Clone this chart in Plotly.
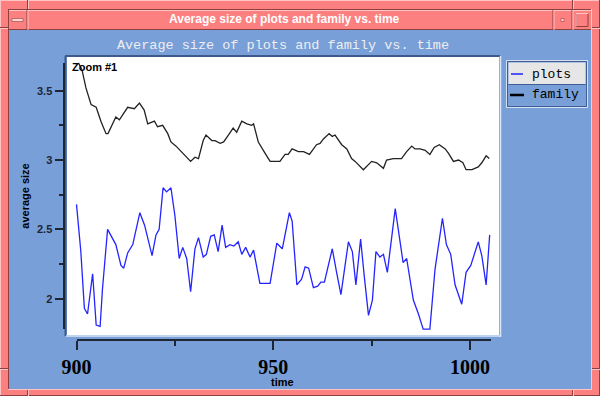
import plotly.graph_objects as go

W, H = 600, 396

# ---------------- data ----------------
family_time = [900.5, 901.4, 902.4, 903.7, 905, 906.2, 907.5, 908, 910, 910.9, 913, 914.7, 916, 917.2,
               918.1, 919.8, 920.6, 921.9, 923.2, 924, 925.3, 926.3, 929, 930.1, 931, 932.2, 932.9,
               934.4, 935.2, 936.5, 937.4, 938.6, 939.8, 940.7, 942, 943.3, 944.5, 945, 946.2, 947.9,
               949.2, 951.7, 953, 953.8, 954.8, 956.4, 957.7, 959.2, 961, 961.9, 962.7, 964.2, 965,
               965.7, 967.4, 968.7, 969.9, 970.8, 972.9, 975, 976.3, 978, 978.8, 980.5, 982.6, 983.9,
               985.2, 986, 987.3, 988.6, 989.8, 990.9, 992.2, 993.7, 994.5, 995.8, 997.1, 998.2, 999,
               1000.5, 1002.1, 1003, 1004.1, 1004.9]
family_size = [3.70, 3.65, 3.52, 3.40, 3.38, 3.28, 3.19, 3.19, 3.31, 3.29, 3.38, 3.37, 3.41, 3.36,
               3.26, 3.28, 3.24, 3.25, 3.19, 3.13, 3.10, 3.07, 2.99, 3.02, 3.01, 3.14, 3.18,
               3.14, 3.14, 3.12, 3.13, 3.18, 3.23, 3.20, 3.28, 3.26, 3.25, 3.26, 3.13, 3.05,
               2.99, 2.99, 3.04, 3.04, 3.08, 3.06, 3.06, 3.04, 3.11, 3.12, 3.15, 3.19, 3.17,
               3.18, 3.11, 3.08, 3.01, 2.99, 2.93, 2.99, 2.98, 2.94, 3.00, 3.01, 3.01, 3.06,
               3.10, 3.08, 3.08, 3.07, 3.04, 3.09, 3.11, 3.08, 3.05, 2.99, 3.00, 2.98, 2.93,
               2.93, 2.95, 2.98, 3.03, 3.01]

plots_time = [900, 901.1, 902, 902.8, 904.1, 905, 906, 906.6, 907.9, 910, 911.3, 912, 913, 914.3,
              916.1, 917.3, 919.2, 920.2, 921, 922, 922.9, 924, 925, 926.1, 927, 928, 929, 930.1,
              931, 932.2, 933, 934.1, 935, 936, 937, 937.9, 939, 940, 941.1, 942, 943, 944.1, 945,
              946.6, 949.2, 950.9, 952.3, 954.1, 954.8, 956, 957.2, 958.1, 959, 960.2, 961.3,
              962.1, 963, 965, 966.1, 967.2, 969.1, 970.1, 971, 972.2, 973.1, 974.2, 975.2, 976.1,
              977.1, 978, 979, 981, 983, 983.9, 985.6, 986.9, 988.1, 989.8, 991.1, 993, 994, 995.1,
              996.2, 997.9, 999, 1000.2, 1002.1, 1003, 1004.1, 1005]
plots_size = [2.68, 2.34, 1.93, 1.89, 2.18, 1.81, 1.80, 2.07, 2.50, 2.39, 2.24, 2.22, 2.33, 2.39,
              2.62, 2.53, 2.31, 2.46, 2.50, 2.80, 2.77, 2.80, 2.60, 2.29, 2.37, 2.29, 2.05, 2.36,
              2.44, 2.30, 2.32, 2.45, 2.46, 2.34, 2.53, 2.37, 2.39, 2.38, 2.41, 2.32, 2.37, 2.30, 2.35,
              2.11, 2.11, 2.40, 2.36, 2.62, 2.56, 2.10, 2.14, 2.23, 2.22, 2.08, 2.09,
              2.12, 2.12, 2.36, 2.19, 2.03, 2.41, 2.34, 2.10, 2.43, 2.17, 1.88, 1.99, 2.34,
              2.30, 2.32, 2.19, 2.65, 2.26, 2.29, 1.99, 1.89, 1.78, 1.78, 2.21, 2.58, 2.39, 2.32,
              2.10, 1.96, 2.19, 2.24, 2.41, 2.31, 2.10, 2.46]

series_names = ["plots", "family"]
x_tick_vals = [900, 950, 1000]
x_tick_text = ["900", "950", "1000"]
x_minor_vals = [925, 975]
y_tick_vals = [2, 2.5, 3, 3.5]
y_tick_text = ["2", "2.5", "3", "3.5"]
y_minor_vals = [2.25, 2.75, 3.25]
window_title = "Average size of plots and family vs. time"
chart_title = "Average size of plots and family vs. time"
x_title = "time"
y_title = "average size"
zoom_label = "Zoom #1"

# ---------------- styling ----------------
PINK = "#fd8080"
PINK_L = "#ffc4c4"
PINK_D = "#8e4040"
BLUE = "#789fd7"
AXC = "#1e2533"

def fx(px):
    return px / W

def fy(py):
    return 1 - py / H

# pixel calibration of the scales
T0, T0PX, PX_PER_T = 900.0, 76.5, 3.935
V0, V0PX, PX_PER_V = 3.0, 160.0, 138.7

def t_at(px):
    return T0 + (px - T0PX) / PX_PER_T

def v_at(py):
    return V0 - (py - V0PX) / PX_PER_V

PL, PR, PT, PB = 67, 499, 57, 335          # white plotting area
AXL, AXR, AXY = 76.5, 491, 339.5            # x axis line
AYT, AYB, AYX = 63, 329, 63.5               # y axis line

shapes = []

def rect(x0, y0, x1, y1, fill=None, line=None, lw=1, layer="below"):
    shapes.append(dict(type="rect", xref="paper", yref="paper",
                       x0=fx(x0), x1=fx(x1), y0=fy(y1), y1=fy(y0),
                       fillcolor=fill if fill else "rgba(0,0,0,0)",
                       line=dict(color=line if line else "rgba(0,0,0,0)", width=lw if line else 0),
                       layer=layer))

def seg(x0, y0, x1, y1, color, lw=1, layer="below"):
    shapes.append(dict(type="line", xref="paper", yref="paper",
                       x0=fx(x0), x1=fx(x1), y0=fy(y0), y1=fy(y1),
                       line=dict(color=color, width=lw), layer=layer))

# window outer bevel
seg(0, 0.5, 600, 0.5, PINK_L)
seg(0.5, 0, 0.5, 396, PINK_L)
seg(0, 395.5, 600, 395.5, PINK_D)
seg(599.5, 0, 599.5, 396, PINK_D)
# resize corner marks
for xx in (27.5, 572.5):
    seg(xx, 0, xx, 9, PINK_D)
    seg(xx + 1, 0, xx + 1, 9, PINK_L)
    seg(xx, 390, xx, 396, PINK_D)
    seg(xx + 1, 390, xx + 1, 396, PINK_L)
for yy in (27.5, 368.5):
    seg(0, yy, 8, yy, PINK_D)
    seg(0, yy + 1, 8, yy + 1, PINK_L)
    seg(592, yy, 600, yy, PINK_D)
    seg(592, yy + 1, 600, yy + 1, PINK_L)
# inner sunken border
seg(8, 9.5, 592, 9.5, PINK_D)
seg(8.5, 9, 8.5, 390, PINK_D)
seg(8, 389.5, 592, 389.5, PINK_L)
seg(591.5, 9, 591.5, 390, PINK_L)
# title bar
rect(9, 10, 591, 30, fill=PINK)
seg(9, 10.5, 591, 10.5, PINK_L)
seg(9, 29.5, 591, 29.5, PINK_D)
for xx in (27, 553, 572):
    seg(xx, 10, xx, 30, PINK_D)
    seg(xx + 1, 10, xx + 1, 30, PINK_L)
# title bar buttons
rect(12, 18.5, 23, 21.5, fill="#ffd6d6", line=PINK_D, lw=0.6)
rect(561, 18.5, 564, 21.5, fill="#ffd6d6", line=PINK_D, lw=0.6)
rect(576, 13.5, 588, 26.5, line=PINK_D, lw=1)
seg(576, 13.5, 588, 13.5, PINK_L)
seg(576, 13.5, 576, 26.5, PINK_L)
# blue client area
rect(9, 30, 591, 389, fill=BLUE)
# plotting area frame
rect(PL, PT, PR, PB, fill="white")
seg(65, 56, 500, 56, "#3d5a8a", 2)
seg(65.5, 56, 65.5, 336, "#3d5a8a", 2)
seg(66, 336, 501, 336, "#d9e5f8", 1.5)
seg(500.5, 56, 500.5, 337, "#d9e5f8", 1.5)
# legend box
rect(506.5, 60.5, 587.5, 107.5, line="#d4e0f4", lw=1)
rect(507.5, 61.5, 586.5, 106.5, line="#3f5e96", lw=1)
rect(508.5, 62.5, 585.5, 84, fill="#e6e6e6")
seg(508.5, 84.5, 585.5, 84.5, "#3f5e96", 1)
seg(511, 74, 523, 74, "#2020ff", 1.5)
seg(510, 95, 524, 95, "black", 2.5)

annotations = [
    dict(text="<b>" + window_title + "</b>", x=fx(284), y=fy(19.5), xref="paper", yref="paper",
         xanchor="center", yanchor="middle", showarrow=False,
         font=dict(family="Liberation Sans", size=12, color="white")),
    dict(text=zoom_label, x=fx(70), y=fy(67), xref="paper", yref="paper",
         xanchor="left", yanchor="middle", showarrow=False,
         font=dict(family="Liberation Sans", size=11, color="black", weight="bold")),
    dict(text=series_names[0], x=fx(530), y=fy(74), xref="paper", yref="paper",
         xanchor="left", yanchor="middle", showarrow=False,
         font=dict(family="Liberation Mono", size=13, color="black")),
    dict(text=series_names[1], x=fx(530), y=fy(95), xref="paper", yref="paper",
         xanchor="left", yanchor="middle", showarrow=False,
         font=dict(family="Liberation Mono", size=13, color="black")),
    dict(text=x_title, x=fx(282), y=fy(381.5), xref="paper", yref="paper",
         xanchor="center", yanchor="middle", showarrow=False,
         font=dict(family="Liberation Sans", size=11, color="black", weight="bold")),
]

fig = go.Figure()
fig.add_trace(go.Scatter(x=plots_time, y=plots_size, mode="lines", name=series_names[0],
                         line=dict(color="#2424ff", width=1.3), showlegend=False))
fig.add_trace(go.Scatter(x=family_time, y=family_size, mode="lines", name=series_names[1],
                         line=dict(color="#222222", width=1.3), showlegend=False))
# carrier for the visible (offset) axes
fig.add_trace(go.Scatter(x=[x_tick_vals[0]], y=[y_tick_vals[0]], mode="markers",
                         marker=dict(opacity=0), xaxis="x2", yaxis="y2",
                         showlegend=False, hoverinfo="skip"))

tick_common = dict(showline=True, linecolor=AXC, linewidth=2, ticks="outside",
                   tickcolor=AXC, tickwidth=2, showgrid=False, zeroline=False,
                   automargin=False, fixedrange=True)

fig.update_layout(
    width=W, height=H, autosize=False,
    margin=dict(l=0, r=0, t=0, b=0, pad=0),
    paper_bgcolor=PINK, plot_bgcolor="rgba(0,0,0,0)",
    showlegend=False,
    title=dict(text=chart_title, x=fx(283), y=fy(44), xref="paper", yref="paper",
               xanchor="center", yanchor="middle",
               font=dict(family="Liberation Mono", size=13.5, color="#eeeeee")),
    xaxis=dict(domain=[fx(PL), fx(PR)], range=[t_at(PL), t_at(PR)], visible=False,
               fixedrange=True),
    yaxis=dict(domain=[fy(PB), fy(PT)], range=[v_at(PB), v_at(PT)], visible=False,
               fixedrange=True),
    xaxis2=dict(domain=[fx(AXL), fx(AXR)], range=[t_at(AXL), t_at(AXR)], anchor="free",
                position=fy(AXY), tickmode="array", tickvals=x_tick_vals, ticktext=x_tick_text,
                ticklen=9,
                tickfont=dict(family="Liberation Serif", size=20, color="black", weight="bold"),
                minor=dict(tickmode="array", tickvals=x_minor_vals, ticklen=5, tickwidth=2,
                           tickcolor=AXC, ticks="outside", showgrid=False),
                **tick_common),
    yaxis2=dict(domain=[fy(AYB), fy(AYT)], range=[v_at(AYB), v_at(AYT)], anchor="free",
                position=fx(AYX), tickmode="array", tickvals=y_tick_vals, ticktext=y_tick_text,
                ticklen=8,
                tickfont=dict(family="Liberation Sans", size=11, color=AXC, weight="bold"),
                title=dict(text=y_title, standoff=4,
                           font=dict(family="Liberation Sans", size=11, color="black",
                                     weight="bold")),
                minor=dict(tickmode="array", tickvals=y_minor_vals, ticklen=4, tickwidth=2,
                           tickcolor=AXC, ticks="outside", showgrid=False),
                **tick_common),
    shapes=shapes,
    annotations=annotations,
)

fig.write_html("out.html", config={"displayModeBar": False},
               post_script="document.body.style.margin='0';")
